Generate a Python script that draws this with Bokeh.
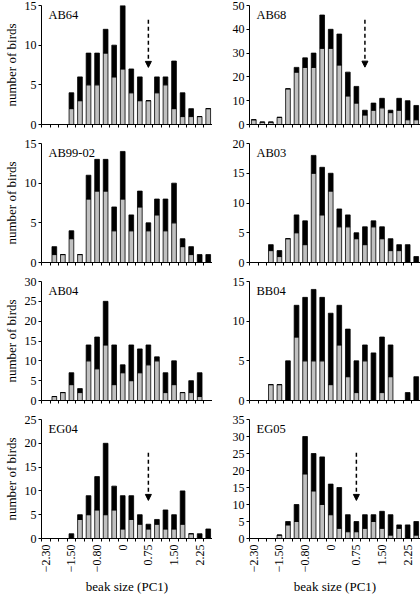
from math import pi
from bokeh.plotting import figure
from bokeh.layouts import gridplot
from bokeh.models import FixedTicker, Label, Arrow, NormalHead, ColumnDataSource, Range1d
from bokeh.embed import file_html
from bokeh.resources import INLINE

# ---- data ----
bins = list(range(20))
tick_bins = [0, 3, 6, 9, 12, 15, 18]
tick_labels = ["−2.30", "−1.50", "−0.80", "0", "0.75", "1.50", "2.25"]

panel_names = ["AB64", "AB68", "AB99-02", "AB03", "AB04", "BB04", "EG04", "EG05"]
y_max = [15, 50, 15, 20, 30, 15, 25, 35]
y_step = [5, 10, 5, 5, 5, 5, 5, 5]

ab64_grey  = [0, 0, 0, 2, 3, 5, 5, 9, 6, 7, 4, 3, 3, 4, 5, 2, 1, 1, 1, 2]
ab64_total = [0, 0, 0, 4, 6, 9, 9, 12, 10, 15, 7, 6, 3, 6, 6, 8, 4, 2, 1, 2]
ab68_grey  = [2, 1, 1, 3, 15, 22, 24, 24, 32, 32, 25, 12, 9, 4, 6, 7, 5, 6, 2, 2]
ab68_total = [2, 1, 1, 3, 15, 24, 28, 30, 46, 40, 38, 22, 16, 6, 9, 11, 6, 11, 10, 8]
ab99_grey  = [0, 1, 1, 3, 1, 8, 9, 9, 4, 8, 4, 7, 4, 6, 4, 5, 2, 1, 0, 0]
ab99_total = [0, 2, 1, 4, 1, 11, 13, 13, 7, 14, 6, 9, 5, 8, 8, 10, 3, 2, 1, 1]
ab03_grey  = [0, 0, 2, 1, 4, 5, 3, 15, 8, 12, 6, 6, 4, 3, 6, 4, 2, 2, 0, 0]
ab03_total = [0, 0, 3, 2, 4, 8, 7, 18, 16, 15, 9, 8, 5, 6, 7, 6, 4, 3, 3, 1]
ab04_grey  = [0, 1, 2, 4, 2, 10, 8, 14, 4, 7, 5, 7, 9, 10, 2, 4, 2, 2, 1, 0]
ab04_total = [0, 1, 2, 7, 3, 14, 16, 25, 14, 9, 14, 13, 14, 11, 7, 10, 2, 5, 7, 0]
bb04_grey  = [0, 0, 2, 2, 0, 8, 5, 5, 5, 2, 7, 3, 1, 5, 0, 1, 3, 0, 0, 0]
bb04_total = [0, 0, 2, 2, 5, 12, 13, 14, 13, 11, 12, 9, 5, 7, 6, 8, 7, 0, 1, 3]
eg04_grey  = [0, 0, 0, 0, 4, 5, 6, 5, 6, 2, 4, 3, 2, 3, 2, 2, 3, 1, 0, 0]
eg04_total = [0, 0, 0, 1, 5, 9, 13, 20, 11, 9, 9, 5, 3, 4, 6, 5, 10, 1, 1, 2]
eg05_grey  = [0, 0, 0, 1, 4, 5, 19, 14, 10, 7, 3, 2, 2, 3, 5, 3, 1, 3, 0, 1]
eg05_total = [0, 0, 0, 1, 5, 10, 30, 25, 24, 16, 15, 7, 5, 7, 7, 8, 7, 4, 4, 5]

greys = [ab64_grey, ab68_grey, ab99_grey, ab03_grey, ab04_grey, bb04_grey, eg04_grey, eg05_grey]
totals = [ab64_total, ab68_total, ab99_total, ab03_total, ab04_total, bb04_total, eg04_total, eg05_total]

arrow_panels = ["AB64", "AB68", "EG04", "EG05"]
arrow_bins = [12, 13, 12, 12]
arrow_tops = [13.2, 44, 18, 25.2]
arrow_tips = [7.2, 24.1, 8, 11.2]

# ---- style ----
FONT = "Liberation Serif"
GREY = "#c0c0c0"


def make_panel(idx):
    name = panel_names[idx]
    col = idx % 2
    row = idx // 2
    bottom = row == 3
    ymax = y_max[idx]
    p = figure(frame_width=171, frame_height=119,
               x_range=Range1d(-0.5, 19.5), y_range=Range1d(0, ymax),
               output_backend="svg", toolbar_location=None,
               min_border_left=(30 if col == 0 else 37),
               min_border_right=(0 if col == 0 else 1),
               min_border_top=5,
               min_border_bottom=(0 if bottom else 14))
    p.outline_line_color = None
    p.xgrid.visible = False
    p.ygrid.visible = False
    p.background_fill_color = "white"
    p.border_fill_color = "white"

    grey = greys[idx]
    total = totals[idx]
    src = ColumnDataSource(dict(x=bins, grey=grey, total=total))
    p.vbar(x="x", bottom=0, top="grey", width=0.55, source=src,
           fill_color=GREY, line_color="black", line_width=0.8)
    p.vbar(x="x", bottom="grey", top="total", width=0.55, source=src,
           fill_color="black", line_color="black", line_width=0.8)

    # x axis
    xa = p.xaxis[0]
    xa.ticker = FixedTicker(ticks=(tick_bins if bottom else []),
                            minor_ticks=[b - 0.5 for b in bins] + [bins[-1] + 0.5])
    xa.major_label_overrides = {b: l for b, l in zip(tick_bins, tick_labels)}
    xa.major_tick_out = 0
    xa.major_tick_in = 0
    xa.minor_tick_out = 3
    xa.minor_tick_in = 0
    xa.major_label_orientation = pi / 2
    xa.major_label_standoff = 3
    xa.major_label_text_font = FONT
    xa.major_label_text_font_size = "12px"
    xa.major_label_text_color = "black"
    xa.axis_line_color = "black"
    xa.minor_tick_line_color = "black"
    if bottom:
        xa.axis_label = "beak size (PC1)"
        xa.axis_label_text_font = FONT
        xa.axis_label_text_font_size = "13px"
        xa.axis_label_text_font_style = "normal"
        xa.axis_label_standoff = 4
        xa.axis_label_text_color = "black"

    # y axis
    ya = p.yaxis[0]
    ya.ticker = FixedTicker(ticks=list(range(0, ymax + 1, y_step[idx])), minor_ticks=[])
    ya.major_tick_out = 3
    ya.major_tick_in = 0
    ya.minor_tick_out = 0
    ya.minor_tick_in = 0
    ya.major_label_standoff = 2
    ya.major_label_text_font = FONT
    ya.major_label_text_font_size = "12px"
    ya.major_label_text_color = "black"
    ya.axis_line_color = "black"
    ya.major_tick_line_color = "black"
    if col == 0:
        ya.axis_label = "number of birds"
        ya.axis_label_text_font = FONT
        ya.axis_label_text_font_size = "13px"
        ya.axis_label_text_font_style = "normal"
        ya.axis_label_standoff = 3
        ya.axis_label_text_color = "black"

    p.add_layout(Label(x=-0.5, y=ymax, x_offset=7, y_offset=-2, text=name,
                       text_font=FONT, text_font_size="12.5px",
                       text_baseline="top", text_align="left", text_color="black"))

    if name in arrow_panels:
        k = arrow_panels.index(name)
        p.add_layout(Arrow(end=NormalHead(size=6, fill_color="black", line_color="black"),
                           x_start=arrow_bins[k], y_start=arrow_tops[k],
                           x_end=arrow_bins[k], y_end=arrow_tips[k],
                           line_color="black", line_width=1.5, line_dash="4 3"))
    return p


panels = [make_panel(i) for i in range(8)]
grid = gridplot([[panels[0], panels[1]], [panels[2], panels[3]],
                 [panels[4], panels[5]], [panels[6], panels[7]]],
                toolbar_location=None)

with open("out.html", "w") as f:
    f.write(file_html(grid, INLINE))
